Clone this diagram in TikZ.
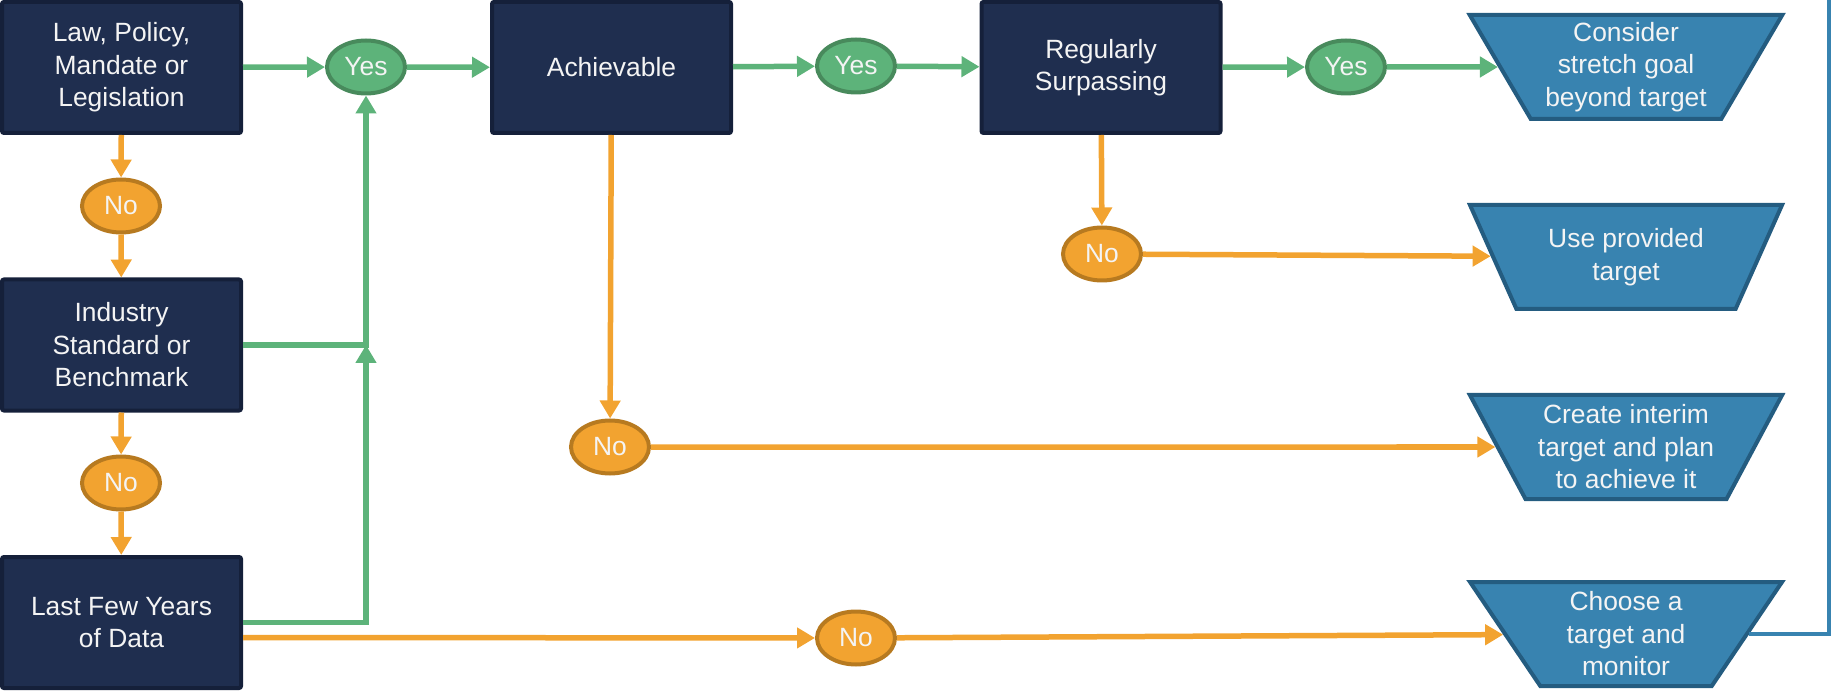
\documentclass[tikz,border=0pt]{standalone}
\usepackage{fontspec}
\setmainfont{Liberation Sans}
\usepackage{tikz}
\usetikzlibrary{arrows.meta}
\usetikzlibrary{shapes.geometric}
\usetikzlibrary{calc}

\definecolor{navyfill}{RGB}{31,46,79}
\definecolor{navyline}{RGB}{21,32,58}
\definecolor{ygreen}{RGB}{93,179,122}
\definecolor{ygreenline}{RGB}{72,138,92}
\definecolor{norange}{RGB}{242,163,48}
\definecolor{norangeline}{RGB}{183,122,32}
\definecolor{tblue}{RGB}{56,131,176}
\definecolor{tblueline}{RGB}{36,92,128}
\definecolor{paleword}{RGB}{244,244,244}

\tikzset{
	box/.style={draw=navyline, fill=navyfill, line width=4pt, rounded corners=2pt,
		minimum width=239pt, minimum height=131pt, inner sep=0pt, align=center, text=paleword},
	yes/.style={ellipse, draw=ygreenline, fill=ygreen, line width=4pt,
		minimum width=78pt, minimum height=53pt, inner sep=0pt, text=paleword},
	no/.style={ellipse, draw=norangeline, fill=norange, line width=4pt,
		minimum width=78pt, minimum height=53pt, inner sep=0pt, text=paleword},
	outcome/.style={trapezium, trapezium angle=60, shape border rotate=180, trapezium stretches=true,
		draw=tblueline, fill=tblue, line width=4pt, minimum width=313pt, minimum height=104pt,
		inner sep=0pt, align=center, text=paleword},
	yesarrow/.style={draw=ygreen, line width=5.5pt, -{Triangle[length=18pt,width=20pt]}},
	noarrow/.style={draw=norange, line width=5.5pt, -{Triangle[length=18pt,width=20pt]}},
	backline/.style={draw=tblue, line width=4.5pt, -{Triangle[length=18pt,width=20pt]}}
}

\begin{document}
\begin{tikzpicture}[x=1pt, y=-1pt, font=\fontsize{26.4}{32.5}\selectfont]
\clip (0,0) rectangle (1831,692);

\node[box] (law) at (121.5,67.5) {Law, Policy,\\Mandate or\\Legislation};
\node[box] (industry) at (121.5,345) {Industry\\Standard or\\Benchmark};
\node[box] (last) at (121.5,622.5) {Last Few Years\\of Data};
\node[box] (achv) at (611.5,67.5) {Achievable};
\node[box] (surp) at (1101,67.5) {Regularly\\Surpassing};

\node[yes] (yes1) at (366,67) {Yes};
\node[yes] (yes2) at (856,66) {Yes};
\node[yes] (yes3) at (1346,67) {Yes};

\node[no] (no1) at (121,206) {No};
\node[no] (no2) at (121,483) {No};
\node[no] (noA) at (610,447) {No};
\node[no] (noS) at (1102,254) {No};
\node[no] (noB) at (856,638) {No};

\node[outcome] (consider) at (1626,67) {Consider\\stretch goal\\beyond target};
\node[outcome] (use) at (1626,257) {Use provided\\target};
\node[outcome] (create) at (1626,447) {Create interim\\target and plan\\to achieve it};
\node[outcome] (choose) at (1626,634) {Choose a\\target and\\monitor};

\draw[yesarrow] (law) -- (yes1);
\draw[yesarrow] (yes1) -- (achv);
\draw[yesarrow] (achv) -- (yes2);
\draw[yesarrow] (yes2) -- (surp);
\draw[yesarrow] (surp) -- (yes3);
\draw[yesarrow] (yes3) -- (consider);

\coordinate (join) at (yes1 |- industry.east);
\draw[yesarrow] (industry.east) -- (join) -- (yes1);
\draw[yesarrow] (last.east) -| (join);

\draw[noarrow] (law) -- (no1);
\draw[noarrow] (no1) -- (industry);
\draw[noarrow] (industry) -- (no2);
\draw[noarrow] (no2) -- (last);
\draw[noarrow] (achv) -- (noA);
\draw[noarrow] (noA) -- (create);
\draw[noarrow] (surp) -- (noS);
\draw[noarrow] (noS) -- (use);
\draw[noarrow] ([yshift=-15pt]last.east) -- (noB);
\draw[noarrow] (noB) -- (choose);

\coordinate (rim) at (1829,-40);
\draw[backline] (choose.east) -- (choose.east -| rim) -- (rim) -- (rim -| achv.north) -- (achv.north);

\end{tikzpicture}
\end{document}
